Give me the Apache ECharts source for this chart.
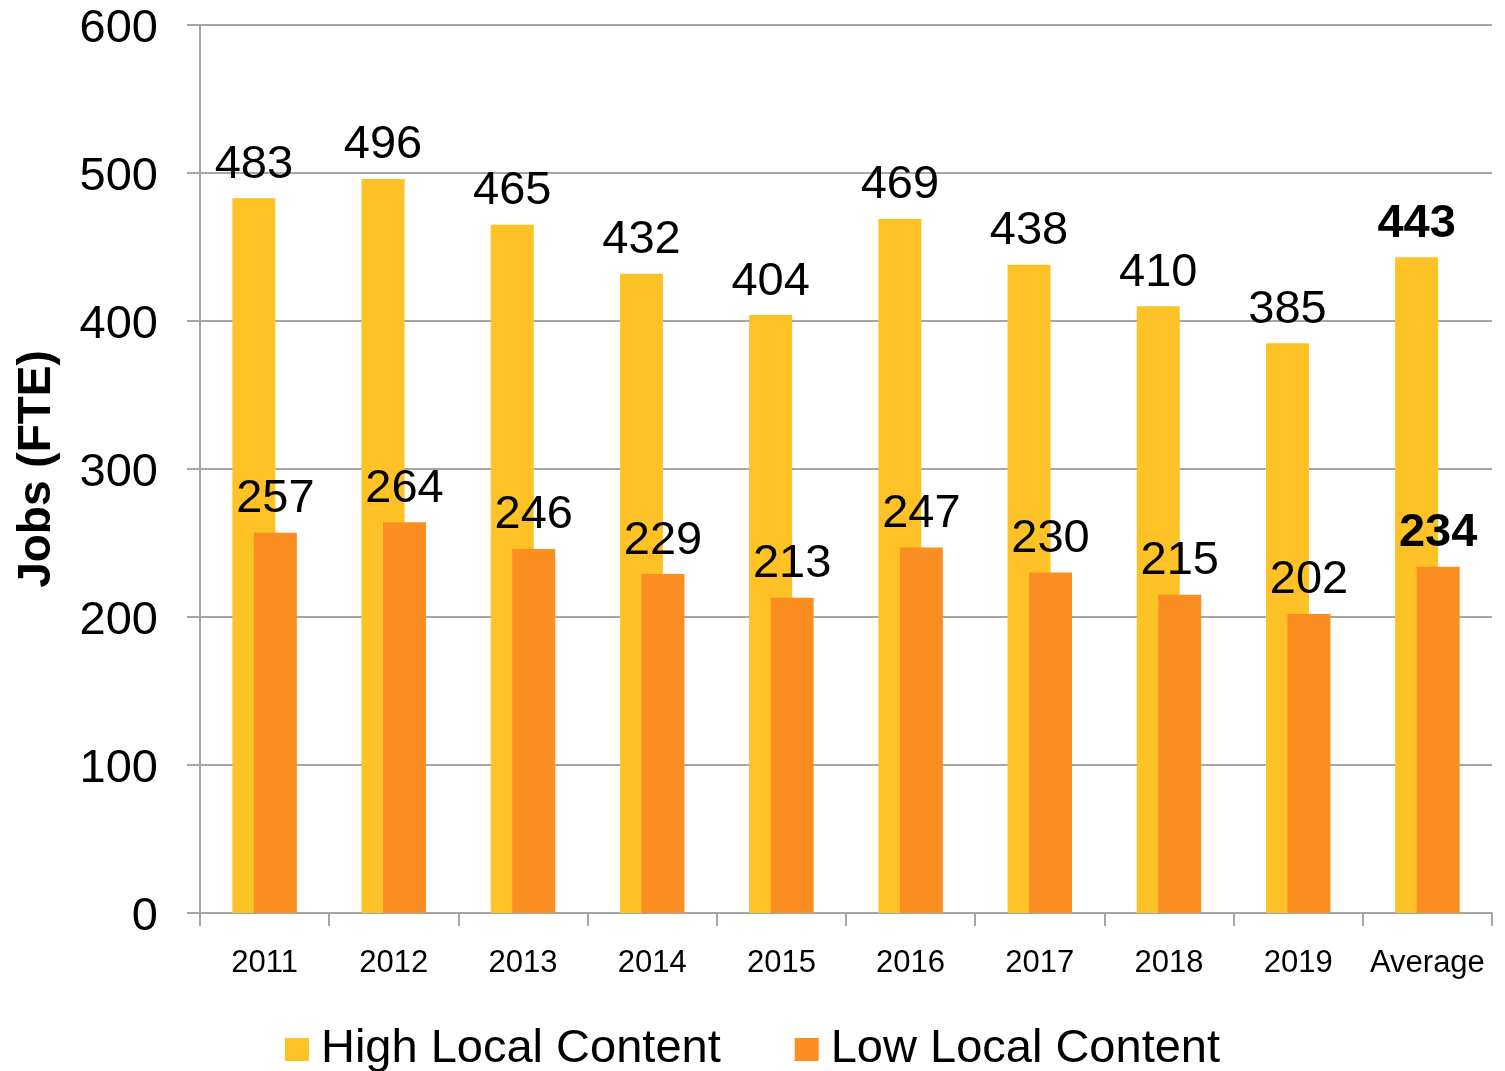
<!DOCTYPE html>
<html><head><meta charset="utf-8">
<script src="https://cdn.jsdelivr.net/npm/echarts@6/dist/echarts.min.js"></script>
<style>html,body{margin:0;padding:0;background:#fff}#c{width:1505px;height:1071px}</style>
</head><body><div id="c"></div>
<script>
const categories = ['2011','2012','2013','2014','2015','2016','2017','2018','2019','Average'];
const highLocal = [483,496,465,432,404,469,438,410,385,443];
const lowLocal = [257,264,246,229,213,247,230,215,202,234];
const yTicks = {min:0,max:600,interval:100};

const FONT = '"Liberation Sans", Arial, sans-serif';
function items(arr){
  return arr.map((v,i)=> i===arr.length-1 ? {value:v,label:{fontWeight:'bold'}} : v);
}
const chart = echarts.init(document.getElementById('c'));
chart.setOption({
  animation:false,
  textStyle:{fontFamily:FONT},
  grid:{left:200,right:13,top:25,bottom:158,containLabel:false,outerBoundsMode:'none'},
  legend:{
    bottom:-7,left:'center',itemWidth:24,itemHeight:23,itemGap:74,
    icon:'rect',
    textStyle:{fontSize:47,color:'#000',fontFamily:FONT,padding:[0,0,0,7]},
    data:['High Local Content','Low Local Content']
  },
  xAxis:{
    type:'category',data:categories,
    axisLine:{lineStyle:{color:'#A6A6A6',width:2}},
    axisTick:{show:true,length:13,lineStyle:{color:'#A6A6A6',width:2}},
    axisLabel:{fontSize:31,color:'#000',margin:35,interval:0,fontFamily:FONT}
  },
  yAxis:{
    type:'value',min:yTicks.min,max:yTicks.max,interval:yTicks.interval,
    name:'Jobs (FTE)',nameLocation:'middle',nameGap:140,
    nameTextStyle:{fontSize:46,fontWeight:'bold',color:'#000',fontFamily:FONT},
    axisLine:{show:true,lineStyle:{color:'#A6A6A6',width:2}},
    axisTick:{show:true,length:13,lineStyle:{color:'#A6A6A6',width:2}},
    splitLine:{lineStyle:{color:'#A6A6A6',width:2}},
    axisLabel:{margin:42,formatter:'{a|{value}}',
      rich:{a:{fontSize:47,color:'#000',fontFamily:FONT,padding:[8,0,0,0]}}}
  },
  series:[
    {name:'High Local Content',type:'bar',data:items(highLocal),barWidth:43,barGap:'-50%',
     itemStyle:{color:'#FEC126'},
     label:{show:true,position:'top',distance:10,fontSize:47,color:'#000',fontFamily:FONT}},
    {name:'Low Local Content',type:'bar',data:items(lowLocal),barWidth:43,barGap:'-50%',
     itemStyle:{color:'#FA8E21'},
     label:{show:true,position:'top',distance:10,fontSize:47,color:'#000',fontFamily:FONT}}
  ]
});
</script></body></html>
